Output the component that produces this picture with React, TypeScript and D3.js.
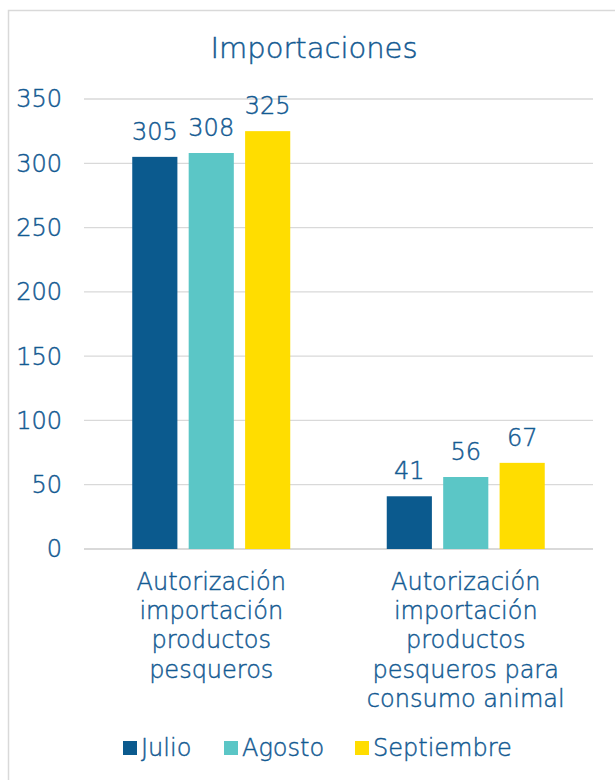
import React from "react";
import * as d3 from "d3";

const categories: string[][] = [
  ["Autorización", "importación", "productos", "pesqueros"],
  ["Autorización", "importación", "productos", "pesqueros para", "consumo animal"],
];
const categoryKeys = ["A", "B"];
const seriesNames = ["Julio", "Agosto", "Septiembre"];
const julio = [305, 41];
const agosto = [308, 56];
const septiembre = [325, 67];
const yTicks = [0, 50, 100, 150, 200, 250, 300, 350];
const colors = ["#0b5a8e", "#5bc6c6", "#ffdd00"];

const W = 615;
const H = 780;
const TEXT = "#135a92";
const FONT = "'DejaVu Sans', sans-serif";
const FW = 200;
const textStyle = { stroke: TEXT, strokeWidth: 0.45 };

export default function App() {
  const values = [julio, agosto, septiembre];
  const y = d3.scaleLinear().domain([0, 350]).range([549, 99]);
  const x = d3.scaleBand<string>().domain(categoryKeys).range([84, 593]).padding(0);

  return (
    <svg width={W} height={H} style={{ position: "absolute", left: 0, top: 0 }}>
      <rect x={0} y={0} width={W} height={H} fill="#fff" />
      <rect x={8.5} y={10.5} width={W + 10} height={H + 10} fill="#fff" stroke="#d9d9d9" strokeWidth={1.5} />
      <text x={314} y={58} textAnchor="middle" fontFamily={FONT} fontWeight={FW} fontSize={29} fill={TEXT} style={textStyle}>
        Importaciones
      </text>
      {yTicks.map((t) => (
        <g key={t}>
          <line x1={84} x2={593} y1={y(t)} y2={y(t)} stroke="#d9d9d9" strokeWidth={t === 0 ? 2 : 1.3} />
          <text x={62} y={y(t)} dy="0.35em" textAnchor="end" fontFamily={FONT} fontWeight={FW} fontSize={24} fill={TEXT} style={textStyle}>
            {t}
          </text>
        </g>
      ))}
      {categoryKeys.map((k, ci) => {
        const cx = (x(k) as number) + x.bandwidth() / 2;
        const xs = d3.scaleBand<string>().domain(seriesNames).range([cx - 79, cx + 79]).paddingInner(0.2);
        return (
          <g key={k}>
            {seriesNames.map((s, si) => {
              const v = values[si][ci];
              const bx = xs(s) as number;
              return (
                <g key={s}>
                  <rect x={bx} y={y(v)} width={xs.bandwidth()} height={y(0) - y(v)} fill={colors[si]} />
                  <text x={bx + xs.bandwidth() / 2} y={y(v) - 17} textAnchor="middle" fontFamily={FONT} fontWeight={FW} fontSize={24} fill={TEXT} style={textStyle}>
                    {v}
                  </text>
                </g>
              );
            })}
            {categories[ci].map((line, li) => (
              <text key={li} x={cx} y={590 + li * 29.2} textAnchor="middle" fontFamily={FONT} fontWeight={FW} fontSize={24} fill={TEXT} style={textStyle}>
                {line}
              </text>
            ))}
          </g>
        );
      })}
      {seriesNames.map((s, i) => {
        const lx = [123, 224, 355][i];
        return (
          <g key={s}>
            <rect x={lx} y={741} width={14} height={14} fill={colors[i]} />
            <text x={lx + 18} y={756} fontFamily={FONT} fontWeight={FW} fontSize={24} fill={TEXT} style={textStyle}>
              {s}
            </text>
          </g>
        );
      })}
    </svg>
  );
}
